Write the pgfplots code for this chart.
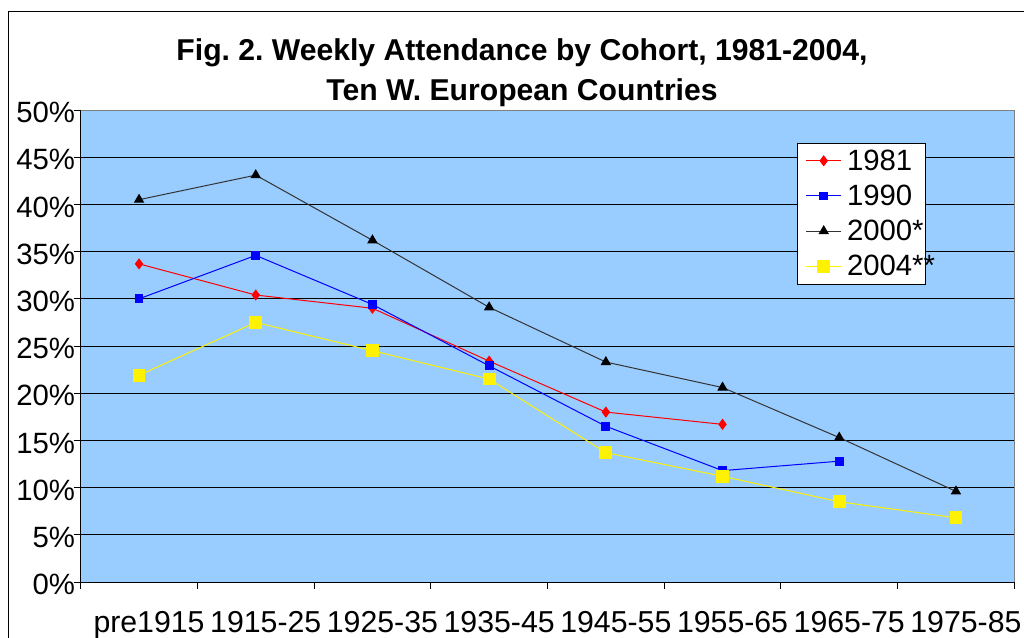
\documentclass[border=0pt]{standalone}
\usepackage{fontspec}
\setmainfont{Liberation Sans}
\usepackage{pgfplots}
\pgfplotsset{compat=1.18}
\definecolor{plotbg}{HTML}{99CCFF}
\definecolor{line2000}{HTML}{333333}
\frenchspacing
\newcommand{\legtext}[1]{\hspace{2pt}\makebox[50.5pt][l]{#1}}

\begin{document}
\begin{tikzpicture}[x=0.75pt,y=0.75pt]
\useasboundingbox (0,0) rectangle (1024,637);
\draw[line width=0.75pt] (8.3,-2) -- (8.3,625.3) -- (1026,625.3);
\node[anchor=base,font=\fontsize{22.6}{26}\selectfont\bfseries] at (522,576) {Fig. 2. Weekly Attendance by Cohort, 1981-2004,};
\node[anchor=base,font=\fontsize{22.6}{26}\selectfont\bfseries] at (522,537) {Ten W. European Countries};
\begin{axis}[
    at={(60.525pt,41.25pt)}, anchor=south west,
    scale only axis, width=700.2pt, height=354pt,
    axis lines=left, axis line style={-, line width=0.75pt, black},
    axis background/.style={fill=plotbg},
    xmin=-0.5, xmax=7.5, ymin=0, ymax=50,
    xtick={0,...,7},
    xticklabels={pre1915,1915-25,1925-35,1935-45,1945-55,1955-65,1965-75,1975-85},
    major x tick style={draw=none},
    minor xtick={-0.5,0.5,...,7.5},
    minor x tick style={line width=0.75pt, black},
    ytick={0,5,...,50},
    yticklabel={\pgfmathprintnumber{\tick}\%},
    /pgf/number format/assume math mode=true,
    tick align=outside, major tick length=5.25pt, minor tick length=5.25pt,
    y tick style={line width=0.75pt, black},
    ymajorgrids, major grid style={line width=0.75pt, black},
    yticklabel style={font=\fontsize{22}{26}\selectfont, xshift=4.5pt, yshift=-2pt},
    xticklabel style={font=\fontsize{22.7}{26}\selectfont, xshift=7.5pt, yshift=-13pt},
    legend style={at={(0.767,0.931)}, anchor=north west, draw=black, line width=0.5pt,
        fill=white, font=\fontsize{22}{26}\selectfont, row sep=5.5pt, inner xsep=6.5pt, inner ysep=3pt},
    legend cell align=left,
    legend image code/.code={\draw[mark repeat=2,mark phase=2] plot coordinates {(0cm,0cm) (0.46cm,0cm) (0.92cm,0cm)};},
    clip=false,
]
\draw[gray, line width=0.75pt] (rel axis cs:0,1) -- (rel axis cs:1,1) -- (rel axis cs:1,0);
\addplot[red, line width=0.75pt, mark=diamond*, mark size=3.6pt, mark options={fill=red}] coordinates {
(0,33.7) (1,30.4) (2,29.0) (3,23.4) (4,18.0) (5,16.7)};
\addlegendentry{\legtext{1981}}
\addplot[blue, line width=0.75pt, mark=square*, mark size=2.9pt, mark options={fill=blue}] coordinates {
(0,30.0) (1,34.6) (2,29.4) (3,22.9) (4,16.5) (5,11.8) (6,12.8)};
\addlegendentry{\legtext{1990}}
\addplot[line2000, line width=0.75pt, mark=triangle*, mark size=3.8pt, mark options={fill=black, draw=black}] coordinates {
(0,40.5) (1,43.1) (2,36.2) (3,29.1) (4,23.3) (5,20.6) (6,15.3) (7,9.6)};
\addlegendentry{\legtext{2000*}}
\addplot[yellow, line width=0.75pt, mark=square*, mark size=4.4pt, mark options={fill=yellow}] coordinates {
(0,21.9) (1,27.5) (2,24.5) (3,21.5) (4,13.7) (5,11.2) (6,8.5) (7,6.8)};
\addlegendentry{\legtext{2004**}}
\end{axis}
\end{tikzpicture}
\end{document}
